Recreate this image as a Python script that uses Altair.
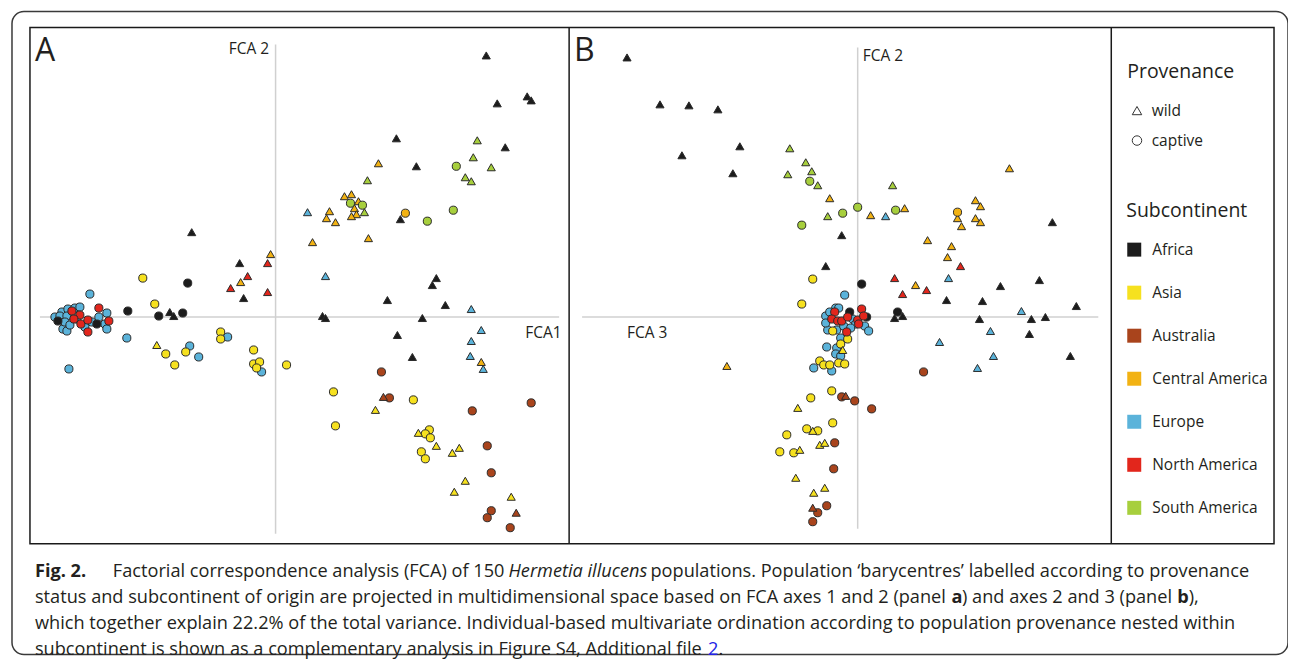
import altair as alt
import pandas as pd

FONT = "Open Sans"
TEXT_COLOR = "#231f20"

# ---------------- categories ----------------
REGIONS = ["Africa", "Asia", "Australia", "Central America", "Europe", "North America", "South America"]
REGION_COLORS = ["#1c1c1c", "#f6e11f", "#a9441c", "#f2b213", "#5bb3da", "#e2261c", "#a7cf3d"]
PROVENANCE = ["wild", "captive"]
PROVENANCE_SHAPES = ["triangle-up", "circle"]
DRAW_ORDER = ["Europe", "Asia", "Australia", "Central America", "South America", "Africa", "North America"]

# ---------------- panel A: (FCA 1, FCA 2, provenance w=wild / c=captive) ----------------
A_EUROPE = [(-1.86, 0.23, "c"), (-2.21, 0.00, "c"), (-2.14, 0.05, "c"), (-2.08, 0.08, "c"), (-2.01, 0.09, "c"),
            (-1.96, 0.10, "c"), (-2.16, 0.01, "c"), (-2.09, 0.01, "c"), (-1.99, -0.02, "c"), (-1.69, 0.04, "c"),
            (-1.77, 0.00, "c"), (-1.71, -0.07, "c"), (-1.69, -0.12, "c"), (-2.13, -0.12, "c"), (-2.09, -0.14, "c"),
            (-2.11, -0.05, "c"), (-2.06, -0.08, "c"), (-1.91, -0.10, "c"), (-1.84, -0.05, "c"), (-2.07, -0.52, "c"),
            (-1.49, -0.21, "c"), (-0.86, -0.29, "c"), (-0.77, -0.40, "c"), (-0.48, -0.20, "c"), (-0.14, -0.55, "c"),
            (0.32, 1.05, "w"), (0.50, 0.41, "w"), (1.96, 0.08, "w"), (2.06, -0.13, "w"), (1.96, -0.24, "w"),
            (1.95, -0.39, "w"), (2.08, -0.52, "w")]
A_NORTH_AMERICA = [(-2.04, 0.06, "c"), (-1.96, 0.02, "c"), (-2.02, -0.02, "c"), (-1.95, -0.07, "c"),
                   (-1.88, -0.03, "c"), (-1.88, -0.15, "c"), (-1.77, 0.09, "c"), (-1.67, -0.04, "c"),
                   (-0.08, 0.54, "w"), (-0.28, 0.41, "w"), (-0.45, 0.29, "w"), (-0.08, 0.25, "w")]
A_AFRICA = [(-2.18, -0.04, "c"), (-1.79, -0.07, "c"), (-1.48, 0.06, "c"), (-0.88, 0.34, "c"), (-1.17, 0.01, "c"),
            (-0.93, 0.04, "c"), (-1.06, 0.05, "w"), (-1.02, 0.01, "w"), (-0.84, 0.85, "w"), (-0.36, 0.54, "w"),
            (-0.32, 0.19, "w"), (2.11, 2.62, "w"), (2.52, 2.21, "w"), (2.56, 2.17, "w"), (2.22, 2.14, "w"),
            (1.21, 1.79, "w"), (2.30, 1.70, "w"), (1.41, 1.51, "w"), (1.25, 0.98, "w"), (1.61, 0.39, "w"),
            (1.57, 0.32, "w"), (1.12, 0.17, "w"), (1.70, 0.12, "w"), (0.47, 0.01, "w"), (0.50, -0.01, "w"),
            (1.47, -0.01, "w"), (1.22, -0.18, "w"), (1.37, -0.40, "w")]
A_ASIA = [(-1.33, 0.39, "c"), (-1.21, 0.13, "c"), (-1.10, -0.37, "c"), (-1.01, -0.48, "c"), (-0.90, -0.35, "c"),
          (-0.55, -0.15, "c"), (-0.55, -0.22, "c"), (-0.22, -0.33, "c"), (-0.22, -0.47, "c"), (-0.16, -0.45, "c"),
          (-0.19, -0.51, "c"), (0.11, -0.48, "c"), (0.58, -0.75, "c"), (1.38, -0.83, "c"), (0.60, -1.09, "c"),
          (1.54, -1.13, "c"), (1.50, -1.17, "c"), (1.55, -1.21, "c"), (1.46, -1.35, "c"), (1.50, -1.42, "c"),
          (-1.19, -0.28, "w"), (1.00, -0.93, "w"), (1.43, -1.16, "w"), (1.61, -1.29, "w"), (1.84, -1.31, "w"),
          (1.77, -1.36, "w"), (1.90, -1.64, "w"), (1.79, -1.75, "w"), (2.36, -1.80, "w")]
A_AUSTRALIA = [(1.06, -0.55, "c"), (1.14, -0.81, "c"), (1.97, -0.94, "c"), (2.56, -0.86, "c"), (2.12, -1.29, "c"),
               (2.16, -1.56, "c"), (2.16, -1.94, "c"), (2.12, -2.01, "c"), (2.35, -2.11, "c"),
               (1.08, -0.80, "w"), (2.41, -1.96, "w")]
A_CENTRAL_AMERICA = [(1.30, 1.04, "c"), (-0.05, 0.63, "w"), (-0.35, 0.35, "w"), (1.03, 1.54, "w"), (0.69, 1.21, "w"),
                     (0.76, 1.23, "w"), (0.83, 1.16, "w"), (0.79, 1.09, "w"), (0.81, 1.03, "w"), (0.76, 1.01, "w"),
                     (0.54, 1.06, "w"), (0.51, 0.99, "w"), (0.60, 0.95, "w"), (0.37, 0.75, "w"), (0.93, 0.79, "w"),
                     (2.06, -0.45, "w")]
A_SOUTH_AMERICA = [(1.81, 1.51, "c"), (0.75, 1.14, "c"), (0.87, 1.12, "c"), (1.78, 1.07, "c"), (1.52, 0.96, "c"),
                   (2.02, 1.77, "w"), (1.98, 1.60, "w"), (2.16, 1.50, "w"), (1.90, 1.40, "w"), (1.96, 1.36, "w"),
                   (0.92, 1.37, "w"), (0.89, 1.05, "w")]

# ---------------- panel B: (FCA 3, FCA 2, provenance) ----------------
B_AFRICA = [(-2.31, 2.60, "w"), (-1.98, 2.13, "w"), (-1.69, 2.12, "w"), (-1.40, 2.08, "w"), (-1.18, 1.71, "w"),
            (-1.76, 1.62, "w"), (-1.25, 1.44, "w"), (-0.16, 0.82, "w"), (-0.32, 0.51, "w"), (1.95, 0.95, "w"),
            (1.82, 0.37, "w"), (1.43, 0.31, "w"), (0.89, 0.17, "w"), (1.25, 0.16, "w"), (2.19, 0.11, "w"),
            (0.37, -0.01, "w"), (0.45, 0.01, "w"), (1.22, -0.02, "w"), (1.74, -0.02, "w"), (1.88, 0.00, "w"),
            (1.72, -0.17, "w"), (2.13, -0.39, "w"),
            (0.04, 0.33, "c"), (0.40, 0.05, "c"), (-0.08, 0.05, "c"), (0.09, 0.00, "c")]
B_SOUTH_AMERICA = [(-0.68, 1.69, "w"), (-0.52, 1.55, "w"), (-0.46, 1.46, "w"), (-0.70, 1.43, "w"), (-0.40, 1.32, "w"),
                   (-0.30, 1.01, "w"), (0.35, 1.32, "w"),
                   (-0.48, 1.36, "c"), (0.00, 1.10, "c"), (-0.15, 1.04, "c"), (-0.56, 0.92, "c"), (0.38, 1.07, "c")]
B_CENTRAL_AMERICA = [(-0.28, 1.19, "w"), (0.13, 1.02, "w"), (1.52, 1.49, "w"), (0.47, 1.09, "w"), (1.18, 1.17, "w"),
                     (1.23, 1.11, "w"), (1.00, 0.99, "w"), (1.18, 0.99, "w"), (1.23, 0.95, "w"), (1.04, 0.91, "w"),
                     (0.70, 0.77, "w"), (0.94, 0.71, "w"), (0.90, 0.60, "w"), (0.58, 0.32, "w"), (-1.31, -0.49, "w"),
                     (1.00, 1.05, "c")]
B_NORTH_AMERICA = [(1.03, 0.51, "w"), (0.37, 0.39, "w"), (0.45, 0.23, "w"), (0.69, 0.27, "w"),
                   (-0.11, -0.15, "c"), (-0.23, 0.05, "c"), (-0.26, -0.02, "c"), (-0.20, -0.04, "c"),
                   (-0.16, -0.04, "c"), (-0.10, 0.00, "c"), (0.04, 0.08, "c"), (0.00, -0.03, "c"),
                   (0.06, 0.01, "c"), (0.01, -0.07, "c")]
B_EUROPE = [(0.28, 1.01, "w"), (0.91, 0.39, "w"), (1.64, 0.06, "w"), (1.33, -0.14, "w"), (0.82, -0.25, "w"),
            (1.36, -0.39, "w"), (1.20, -0.51, "w"),
            (-0.13, 0.22, "c"), (-0.44, -0.51, "c"), (-0.26, -0.54, "c"), (-0.32, 0.01, "c"), (-0.30, -0.13, "c"),
            (-0.31, -0.30, "c"), (-0.21, -0.13, "c"), (-0.17, -0.21, "c"), (-0.21, -0.31, "c"), (-0.22, -0.37, "c"),
            (-0.17, -0.39, "c"), (0.07, -0.09, "c"), (0.11, -0.14, "c"), (-0.22, 0.09, "c"), (-0.19, 0.09, "c"),
            (-0.28, 0.05, "c"), (-0.32, -0.06, "c"), (-0.05, -0.02, "c"), (-0.02, -0.07, "c"), (-0.14, -0.09, "c"),
            (-0.07, -0.11, "c")]
B_ASIA = [(-0.45, 0.38, "c"), (-0.56, 0.13, "c"), (-0.38, -0.44, "c"), (-0.34, -0.48, "c"), (-0.28, -0.48, "c"),
          (-0.19, -0.46, "c"), (-0.13, -0.47, "c"), (-0.26, -0.74, "c"), (-0.47, -0.81, "c"), (-0.25, -1.06, "c"),
          (-0.51, -1.12, "c"), (-0.40, -1.14, "c"), (-0.71, -1.18, "c"), (-0.78, -1.35, "c"), (-0.64, -1.36, "c"),
          (-0.17, -0.27, "c"), (-0.10, -0.22, "c"), (-0.25, -0.14, "c"),
          (-0.15, -0.33, "w"), (-0.60, -0.91, "w"), (-0.45, -1.14, "w"), (-0.38, -1.28, "w"), (-0.33, -1.26, "w"),
          (-0.58, -1.33, "w"), (-0.62, -1.61, "w"), (-0.33, -1.71, "w"), (-0.44, -1.76, "w")]
B_AUSTRALIA = [(0.66, -0.55, "c"), (-0.16, -0.80, "c"), (-0.03, -0.84, "c"), (0.14, -0.92, "c"), (-0.23, -1.26, "c"),
               (-0.24, -1.52, "c"), (-0.31, -1.89, "c"), (-0.40, -1.96, "c"), (-0.45, -2.05, "c"),
               (-0.12, -0.79, "w"), (-0.45, -1.91, "w")]

CAPTION_1 = ["Fig. 2.", "Factorial correspondence analysis (FCA) of 150", "Hermetia illucens",
             "populations. Population \u2018barycentres\u2019 labelled according to provenance"]
CAPTION_2 = ["status and subcontinent of origin are projected in multidimensional space based on FCA axes 1 and 2 (panel",
             "a", ") and axes 2 and 3 (panel", "b", "),"]
CAPTION_3 = "which together explain 22.2% of the total variance. Individual-based multivariate ordination according to population provenance nested within"
CAPTION_4 = ["subcontinent is shown as a complementary analysis in Figure S4, Additional file", "2", "."]

# ---------------- layout (view pixels) ----------------
W, H = 1278, 644
A_X_DOMAIN = [-2.64, 10.14]
B_X_DOMAIN = [-8.47, 4.31]
Y_DOMAIN = [-3.38, 3.06]
CAP = 18.2


def frame(groups):
    rows = []
    for region in DRAW_ORDER:
        for x, y, p in groups[region]:
            rows.append({"fca_x": x, "fca_y": y, "region": region,
                         "provenance": "wild" if p == "w" else "captive"})
    return pd.DataFrame(rows)


df_a = frame({"Africa": A_AFRICA, "Asia": A_ASIA, "Australia": A_AUSTRALIA, "Central America": A_CENTRAL_AMERICA,
              "Europe": A_EUROPE, "North America": A_NORTH_AMERICA, "South America": A_SOUTH_AMERICA})
df_b = frame({"Africa": B_AFRICA, "Asia": B_ASIA, "Australia": B_AUSTRALIA, "Central America": B_CENTRAL_AMERICA,
              "Europe": B_EUROPE, "North America": B_NORTH_AMERICA, "South America": B_SOUTH_AMERICA})
origin = pd.DataFrame({"origin": [0.0]})

color_legend = alt.Legend(title="Subcontinent", orient="none", legendX=1116, legendY=191, padding=0,
                          titleFont=FONT, titleFontSize=19.5, titleFontWeight="normal", titleColor=TEXT_COLOR,
                          titlePadding=20, labelFont=FONT, labelFontSize=15.5, labelColor=TEXT_COLOR,
                          symbolType="square", symbolSize=196, symbolStrokeColor="transparent",
                          symbolOpacity=1, labelOffset=10, rowPadding=23.1)
shape_legend = alt.Legend(title="Provenance", orient="none", legendX=1117, legendY=52, padding=0,
                          titleFont=FONT, titleFontSize=19.5, titleFontWeight="normal", titleColor=TEXT_COLOR,
                          titlePadding=20, labelFont=FONT, labelFontSize=15.5, labelColor=TEXT_COLOR,
                          symbolSize=90, symbolFillColor="white", symbolStrokeColor="#333333",
                          symbolStrokeWidth=1, symbolOffset=2, labelOffset=7, rowPadding=13)
color_scale = alt.Scale(domain=REGIONS, range=REGION_COLORS)
shape_scale = alt.Scale(domain=PROVENANCE, range=PROVENANCE_SHAPES)


def points(df, xdom):
    return alt.Chart(df).mark_point(filled=True, size=66, stroke="#2a2a2a", strokeWidth=1, opacity=1).encode(
        x=alt.X("fca_x:Q", scale=alt.Scale(domain=xdom, nice=False, zero=False), axis=None),
        y=alt.Y("fca_y:Q", scale=alt.Scale(domain=Y_DOMAIN, nice=False, zero=False), axis=None),
        color=alt.Color("region:N", scale=color_scale, legend=color_legend),
        shape=alt.Shape("provenance:N", scale=shape_scale, legend=shape_legend),
    )


def hline(x1, x2):
    return alt.Chart(origin).mark_rule(color="#d0d0d0", strokeWidth=1.5).encode(
        y=alt.Y("origin:Q", scale=alt.Scale(domain=Y_DOMAIN, nice=False, zero=False), axis=None),
        x=alt.value(x1), x2=alt.value(x2))


def vline(xdom, y1, y2):
    return alt.Chart(origin).mark_rule(color="#d0d0d0", strokeWidth=1.5).encode(
        x=alt.X("origin:Q", scale=alt.Scale(domain=xdom, nice=False, zero=False), axis=None),
        y=alt.value(y1), y2=alt.value(y2))


def label(txt, x, y, size, weight="normal", style="normal", color=TEXT_COLOR, font=FONT):
    return alt.Chart(origin).mark_text(align="left", baseline="middle", font=font, fontSize=size,
                                       fontWeight=weight, fontStyle=style, color=color).encode(
        x=alt.value(x), y=alt.value(y), text=alt.value(txt))


box = alt.Chart(origin).mark_rect(fill="transparent", stroke="#1a1a1a", strokeWidth=1.5).encode(
    x=alt.value(18), x2=alt.value(1264), y=alt.value(16), y2=alt.value(533))
div1 = alt.Chart(origin).mark_rule(color="#1a1a1a", strokeWidth=1.5).encode(
    x=alt.value(558), y=alt.value(16), y2=alt.value(533))
div2 = alt.Chart(origin).mark_rule(color="#1a1a1a", strokeWidth=1.5).encode(
    x=alt.value(1101), y=alt.value(16), y2=alt.value(533))

L1, L2, L3, L4 = 561, 587.5, 613.5, 639.5

layers = [
    box, div1, div2,
    hline(28, 548), vline(A_X_DOMAIN, 33, 523),
    hline(571, 1088), vline(B_X_DOMAIN, 36, 518),
    points(df_a, A_X_DOMAIN), points(df_b, B_X_DOMAIN),
    label("A", 23, 40, 32), label("B", 563, 40, 32),
    label("FCA 2", 217, 38, 15.5), label("FCA1", 514, 322, 15.5),
    label("FCA 2", 852, 45, 15.5), label("FCA 3", 616, 322, 15.5),
    # caption
    label(CAPTION_1[0], 23, L1, CAP, weight="bold"),
    label(CAPTION_1[1], 101, L1, CAP),
    label(CAPTION_1[2], 497.3, L1, CAP, style="italic"),
    label(CAPTION_1[3], 639.5, L1, CAP),
    label(CAPTION_2[0], 23, L2, CAP),
    label(CAPTION_2[1], 941, L2, CAP, weight="bold"),
    label(CAPTION_2[2], 951.5, L2, CAP),
    label(CAPTION_2[3], 1167, L2, CAP, weight="bold"),
    label(CAPTION_2[4], 1178.5, L2, CAP),
    label(CAPTION_3, 23, L3, CAP),
    label(CAPTION_4[0], 23, L4, CAP),
    label(CAPTION_4[1], 697, L4, CAP, color="#2323e6"),
    label(CAPTION_4[2], 707.5, L4, CAP),
]

chart = alt.layer(*layers).resolve_scale(
    x="independent", y="independent", color="shared", shape="shared"
).properties(
    width=W, height=H,
    padding={"left": 4, "top": 3, "right": 0, "bottom": 5},
    autosize=alt.AutoSizeParams(type="none"),
).configure(
    font=FONT, background="white"
).configure_view(
    stroke="#3a3a3a", strokeWidth=1.5, cornerRadius=12
)

chart.save("out.html", embed_options={"renderer": "svg", "actions": False})
